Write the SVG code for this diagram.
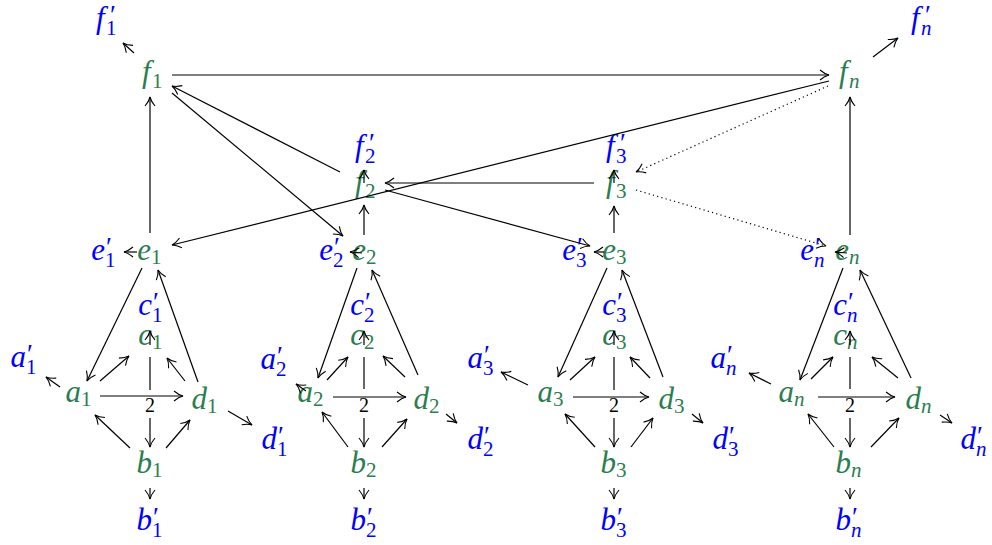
<svg xmlns="http://www.w3.org/2000/svg" width="992" height="545" viewBox="0 0 992 545">
<style>
text{font-family:"Liberation Serif","DejaVu Serif",serif}
.g{fill:#2a7e50}
.b{fill:#0000ff}
.L{font-size:31px;font-style:italic}
.s{font-size:21px}
.n{font-style:italic}
.p{font-size:27px}
.two{font-size:20px;text-anchor:middle;fill:#000}
.c line{stroke:#000;stroke-width:1.2;fill:none;marker-end:url(#ah)}
.c line.nm{marker-end:none}
.c line.dot{stroke-dasharray:1.2 3.2;stroke-width:1.2}
</style>
<defs>
<marker id="ah" markerUnits="userSpaceOnUse" markerWidth="20" markerHeight="20" viewBox="-10 -10 20 20" refX="0" refY="0" orient="auto" overflow="visible">
<path d="M-9,-5 C-5.5,-2 -2.5,-0.6 0,0 C-2.5,0.6 -5.5,2 -9,5" fill="none" stroke="#000" stroke-width="1.1"/>
</marker>
</defs>
<!-- block 1 -->
<g id="f1p"><text class="b"><tspan class="L" x="96" y="28">f</tspan><tspan class="p" x="110" y="24">′</tspan><tspan class="s" x="106" y="35">1</tspan></text></g>
<g id="f1"><text class="g"><tspan class="L" x="142" y="82">f</tspan><tspan class="s" x="152" y="88">1</tspan></text></g>
<g id="e1p"><text class="b"><tspan class="L" x="91.2" y="260">e</tspan><tspan class="p" x="106" y="256">′</tspan><tspan class="s" x="105" y="267">1</tspan></text></g>
<g id="e1"><text class="g"><tspan class="L" x="137.2" y="260">e</tspan><tspan class="s" x="151" y="264">1</tspan></text></g>
<g id="c1p"><text class="b"><tspan class="L" x="138.2" y="315">c</tspan><tspan class="p" x="153" y="311">′</tspan><tspan class="s" x="152" y="322">1</tspan></text></g>
<g id="c1"><text class="g"><tspan class="L" x="138.2" y="345">c</tspan><tspan class="s" x="152" y="349">1</tspan></text></g>
<g id="a1p"><text class="b"><tspan class="L" x="10.5" y="367">a</tspan><tspan class="p" x="27" y="363">′</tspan><tspan class="s" x="26" y="374">1</tspan></text></g>
<g id="a1"><text class="g"><tspan class="L" x="65.5" y="402">a</tspan><tspan class="s" x="81" y="406">1</tspan></text></g>
<g id="d1"><text class="g"><tspan class="L" x="191.5" y="409">d</tspan><tspan class="s" x="207" y="413">1</tspan></text></g>
<g id="d1p"><text class="b"><tspan class="L" x="261.5" y="449">d</tspan><tspan class="p" x="278" y="445">′</tspan><tspan class="s" x="277" y="456">1</tspan></text></g>
<g id="b1"><text class="g"><tspan class="L" x="136.5" y="473">b</tspan><tspan class="s" x="152" y="477">1</tspan></text></g>
<g id="b1p"><text class="b"><tspan class="L" x="136.5" y="530">b</tspan><tspan class="p" x="153" y="526">′</tspan><tspan class="s" x="152" y="537">1</tspan></text></g>
<g id="l1"><text class="two" x="150" y="412">2</text></g>
<!-- block 2 -->
<g id="f2p"><text class="b"><tspan class="L" x="355" y="156">f</tspan><tspan class="p" x="369" y="152">′</tspan><tspan class="s" x="365" y="163">2</tspan></text></g>
<g id="f2"><text class="g"><tspan class="L" x="355" y="192">f</tspan><tspan class="s" x="365" y="198">2</tspan></text></g>
<g id="e2p"><text class="b"><tspan class="L" x="319.2" y="260">e</tspan><tspan class="p" x="334" y="256">′</tspan><tspan class="s" x="333" y="267">2</tspan></text></g>
<g id="e2"><text class="g"><tspan class="L" x="352.2" y="260">e</tspan><tspan class="s" x="366" y="264">2</tspan></text></g>
<g id="c2p"><text class="b"><tspan class="L" x="350.2" y="315">c</tspan><tspan class="p" x="365" y="311">′</tspan><tspan class="s" x="364" y="322">2</tspan></text></g>
<g id="c2"><text class="g"><tspan class="L" x="350.2" y="345">c</tspan><tspan class="s" x="364" y="349">2</tspan></text></g>
<g id="a2p"><text class="b"><tspan class="L" x="260.5" y="369">a</tspan><tspan class="p" x="277" y="365">′</tspan><tspan class="s" x="276" y="376">2</tspan></text></g>
<g id="a2"><text class="g"><tspan class="L" x="297.5" y="402">a</tspan><tspan class="s" x="313" y="406">2</tspan></text></g>
<g id="d2"><text class="g"><tspan class="L" x="413.5" y="409">d</tspan><tspan class="s" x="429" y="413">2</tspan></text></g>
<g id="d2p"><text class="b"><tspan class="L" x="467.5" y="449">d</tspan><tspan class="p" x="484" y="445">′</tspan><tspan class="s" x="483" y="456">2</tspan></text></g>
<g id="b2"><text class="g"><tspan class="L" x="350.5" y="473">b</tspan><tspan class="s" x="366" y="477">2</tspan></text></g>
<g id="b2p"><text class="b"><tspan class="L" x="350.5" y="530">b</tspan><tspan class="p" x="367" y="526">′</tspan><tspan class="s" x="366" y="537">2</tspan></text></g>
<g id="l2"><text class="two" x="364" y="412">2</text></g>
<!-- block 3 -->
<g id="f3p"><text class="b"><tspan class="L" x="606" y="156">f</tspan><tspan class="p" x="620" y="152">′</tspan><tspan class="s" x="616" y="163">3</tspan></text></g>
<g id="f3"><text class="g"><tspan class="L" x="606" y="192">f</tspan><tspan class="s" x="616" y="198">3</tspan></text></g>
<g id="e3p"><text class="b"><tspan class="L" x="562.2" y="260">e</tspan><tspan class="p" x="577" y="256">′</tspan><tspan class="s" x="576" y="267">3</tspan></text></g>
<g id="e3"><text class="g"><tspan class="L" x="602.2" y="260">e</tspan><tspan class="s" x="616" y="264">3</tspan></text></g>
<g id="c3p"><text class="b"><tspan class="L" x="602.2" y="315">c</tspan><tspan class="p" x="617" y="311">′</tspan><tspan class="s" x="616" y="322">3</tspan></text></g>
<g id="c3"><text class="g"><tspan class="L" x="602.2" y="345">c</tspan><tspan class="s" x="616" y="349">3</tspan></text></g>
<g id="a3p"><text class="b"><tspan class="L" x="467.5" y="368">a</tspan><tspan class="p" x="484" y="364">′</tspan><tspan class="s" x="483" y="375">3</tspan></text></g>
<g id="a3"><text class="g"><tspan class="L" x="537.5" y="402">a</tspan><tspan class="s" x="553" y="406">3</tspan></text></g>
<g id="d3"><text class="g"><tspan class="L" x="658.5" y="409">d</tspan><tspan class="s" x="674" y="413">3</tspan></text></g>
<g id="d3p"><text class="b"><tspan class="L" x="712.5" y="449">d</tspan><tspan class="p" x="729" y="445">′</tspan><tspan class="s" x="728" y="456">3</tspan></text></g>
<g id="b3"><text class="g"><tspan class="L" x="600.5" y="473">b</tspan><tspan class="s" x="616" y="477">3</tspan></text></g>
<g id="b3p"><text class="b"><tspan class="L" x="600.5" y="530">b</tspan><tspan class="p" x="617" y="526">′</tspan><tspan class="s" x="616" y="537">3</tspan></text></g>
<g id="l3"><text class="two" x="614" y="412">2</text></g>
<!-- block n -->
<g id="fnp"><text class="b"><tspan class="L" x="911" y="28">f</tspan><tspan class="p" x="925" y="24">′</tspan><tspan class="s n" x="921" y="35">n</tspan></text></g>
<g id="fn"><text class="g"><tspan class="L" x="839" y="82">f</tspan><tspan class="s n" x="849" y="88">n</tspan></text></g>
<g id="enp"><text class="b"><tspan class="L" x="800.2" y="260">e</tspan><tspan class="p" x="815" y="256">′</tspan><tspan class="s n" x="814" y="267">n</tspan></text></g>
<g id="en"><text class="g"><tspan class="L" x="835.2" y="260">e</tspan><tspan class="s n" x="849" y="264">n</tspan></text></g>
<g id="cnp"><text class="b"><tspan class="L" x="833.2" y="315">c</tspan><tspan class="p" x="848" y="311">′</tspan><tspan class="s n" x="847" y="322">n</tspan></text></g>
<g id="cn"><text class="g"><tspan class="L" x="833.2" y="345">c</tspan><tspan class="s n" x="847" y="349">n</tspan></text></g>
<g id="anp"><text class="b"><tspan class="L" x="710.5" y="368">a</tspan><tspan class="p" x="727" y="364">′</tspan><tspan class="s n" x="726" y="375">n</tspan></text></g>
<g id="an"><text class="g"><tspan class="L" x="778.5" y="402">a</tspan><tspan class="s n" x="794" y="406">n</tspan></text></g>
<g id="dn"><text class="g"><tspan class="L" x="905.5" y="409">d</tspan><tspan class="s n" x="921" y="413">n</tspan></text></g>
<g id="dnp"><text class="b"><tspan class="L" x="960.5" y="449">d</tspan><tspan class="p" x="977" y="445">′</tspan><tspan class="s n" x="976" y="456">n</tspan></text></g>
<g id="bn"><text class="g"><tspan class="L" x="835.5" y="473">b</tspan><tspan class="s n" x="851" y="477">n</tspan></text></g>
<g id="bnp"><text class="b"><tspan class="L" x="835.5" y="530">b</tspan><tspan class="p" x="852" y="526">′</tspan><tspan class="s n" x="851" y="537">n</tspan></text></g>
<g id="ln"><text class="two" x="850" y="412">2</text></g>
<g id="connectors" class="c">
<!-- top -->
<line x1="134" y1="53" x2="123" y2="43"/>
<line x1="172" y1="75" x2="829" y2="75"/>
<line x1="150" y1="233" x2="150" y2="97"/>
<line x1="340" y1="172" x2="172" y2="86"/>
<line x1="172" y1="93" x2="343" y2="236"/>
<line x1="829" y1="81" x2="172" y2="245"/>
<line x1="594" y1="183" x2="385" y2="183"/>
<line x1="385" y1="190" x2="590" y2="246"/>
<line class="dot" x1="828" y1="86" x2="636" y2="172"/>
<line class="dot" x1="636" y1="190" x2="826" y2="246"/>
<line x1="873" y1="57" x2="898" y2="38"/>
<line x1="850" y1="235" x2="850" y2="97"/>
<line x1="364" y1="235" x2="364" y2="205"/>
<line x1="364" y1="183" x2="364" y2="170"/>
<line x1="614" y1="233" x2="614" y2="206"/>
<line x1="614" y1="183" x2="614" y2="170"/>
<!-- block 1 -->
<line x1="137" y1="252" x2="124" y2="252"/>
<line x1="142" y1="268" x2="87" y2="381"/>
<line x1="198" y1="382" x2="158" y2="270"/>
<line x1="150" y1="345" x2="150" y2="331"/>
<line x1="60" y1="387" x2="46" y2="377"/>
<line x1="100" y1="381" x2="129" y2="356"/>
<line x1="185" y1="381" x2="167" y2="358"/>
<line class="nm" x1="150" y1="357" x2="150" y2="390"/>
<line x1="150" y1="418" x2="150" y2="447"/>
<line x1="100" y1="396" x2="183" y2="396"/>
<line x1="228" y1="411" x2="252" y2="425"/>
<line x1="130" y1="448" x2="95" y2="415"/>
<line x1="166" y1="448" x2="190" y2="420"/>
<line x1="150" y1="488" x2="150" y2="499"/>
<!-- block 2 -->
<line x1="362" y1="253" x2="350" y2="252"/>
<line x1="357" y1="268" x2="318" y2="378"/>
<line x1="418" y1="375" x2="372" y2="270"/>
<line x1="364" y1="345" x2="364" y2="331"/>
<line x1="306" y1="391" x2="296" y2="384"/>
<line x1="327" y1="380" x2="348" y2="357"/>
<line x1="405" y1="377" x2="383" y2="356"/>
<line class="nm" x1="364" y1="357" x2="364" y2="389"/>
<line x1="364" y1="418" x2="364" y2="447"/>
<line x1="333" y1="397" x2="406" y2="397"/>
<line x1="446" y1="414" x2="457" y2="423"/>
<line x1="348" y1="447" x2="322" y2="412"/>
<line x1="382" y1="447" x2="407" y2="419"/>
<line x1="364" y1="488" x2="364" y2="499"/>
<!-- block 3 -->
<line x1="604" y1="252" x2="594" y2="252"/>
<line x1="607" y1="268" x2="558" y2="377"/>
<line x1="663" y1="377" x2="622" y2="270"/>
<line x1="614" y1="345" x2="614" y2="331"/>
<line x1="528" y1="385" x2="501" y2="372"/>
<line x1="570" y1="380" x2="595" y2="357"/>
<line x1="650" y1="378" x2="630" y2="357"/>
<line class="nm" x1="614" y1="357" x2="614" y2="390"/>
<line x1="614" y1="418" x2="614" y2="447"/>
<line x1="573" y1="397" x2="649" y2="397"/>
<line x1="692" y1="414" x2="703" y2="423"/>
<line x1="595" y1="447" x2="565" y2="414"/>
<line x1="631" y1="447" x2="653" y2="418"/>
<line x1="614" y1="488" x2="614" y2="499"/>
<!-- block n -->
<line x1="847" y1="253" x2="835" y2="252"/>
<line x1="843" y1="268" x2="800" y2="380"/>
<line x1="911" y1="378" x2="860" y2="270"/>
<line x1="850" y1="345" x2="850" y2="331"/>
<line x1="771" y1="384" x2="749" y2="373"/>
<line x1="811" y1="379" x2="833" y2="357"/>
<line x1="898" y1="378" x2="872" y2="357"/>
<line class="nm" x1="850" y1="357" x2="850" y2="389"/>
<line x1="850" y1="418" x2="850" y2="447"/>
<line x1="818" y1="397" x2="895" y2="397"/>
<line x1="940" y1="415" x2="952" y2="423"/>
<line x1="834" y1="447" x2="808" y2="414"/>
<line x1="871" y1="447" x2="899" y2="418"/>
<line x1="850" y1="488" x2="850" y2="499"/>
</g>
</svg>
